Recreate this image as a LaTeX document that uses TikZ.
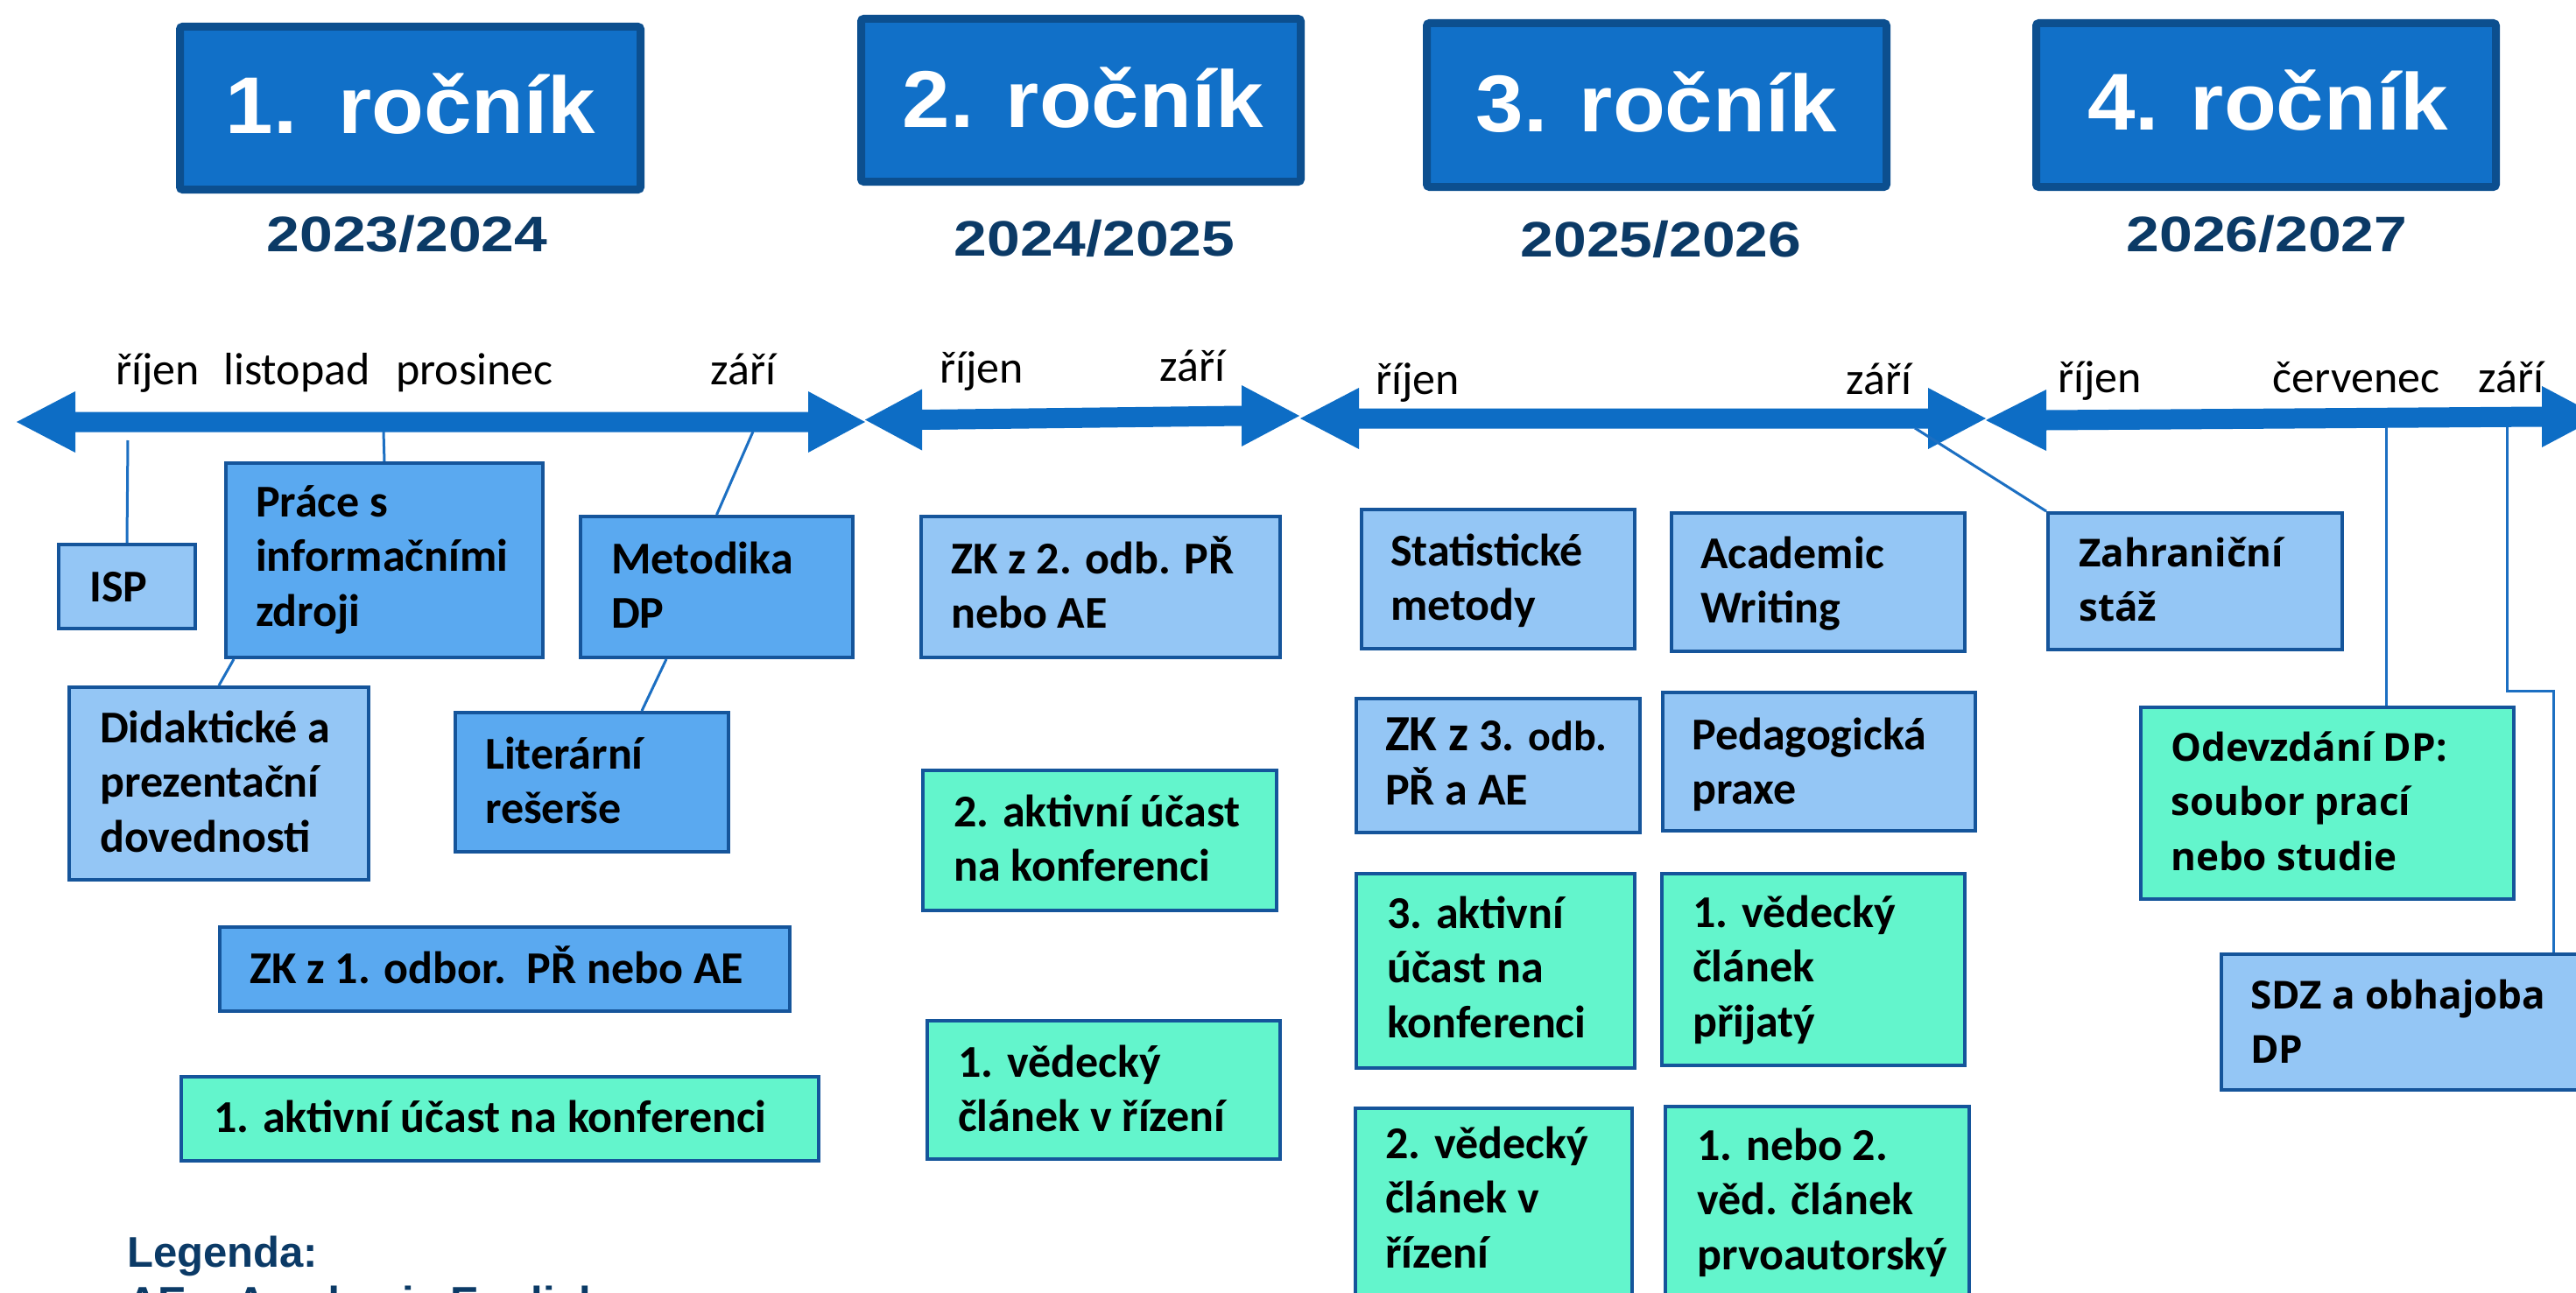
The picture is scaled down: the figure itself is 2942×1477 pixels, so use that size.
\documentclass[tikz,border=0pt]{standalone}
\usepackage{fontspec}
\setmainfont{Carlito}
\newfontfamily\arialf{Liberation Sans}
\newfontfamily\osans{Open Sans}
\usepackage{graphicx}
\definecolor{ybfill}{HTML}{1170C8}
\definecolor{ybdraw}{HTML}{0C4F8F}
\definecolor{navy}{HTML}{0B3A66}
\definecolor{tline}{HTML}{0D6DC5}
\definecolor{conn}{HTML}{1C6FC2}
\definecolor{bdraw}{HTML}{15559B}
\definecolor{lb}{HTML}{94C6F5}
\definecolor{mb}{HTML}{5AA9F0}
\definecolor{aq}{HTML}{63F5CC}
\newcommand\boxfnt{\bfseries\fontsize{52}{62.5}\selectfont}
\newcommand\oboxfnt{\osans\bfseries\fontsize{44}{62.5}\selectfont}
\tikzset{
  yearbox/.style={draw=ybdraw, fill=ybfill, line width=9pt, rounded corners=3pt, anchor=north west, inner sep=0pt},
  boxst/.style={draw=bdraw, line width=4pt, anchor=north west, inner sep=0pt},
  conline/.style={draw=conn, line width=3pt},
  titletext/.style={font=\arialf\bfseries\fontsize{92}{100}\selectfont, text=white, anchor=base, inner sep=0pt},
  yeartext/.style={font=\arialf\bfseries\fontsize{57}{60}\selectfont, text=navy, anchor=base, inner sep=0pt},
  month/.style={font=\fontsize{52}{62}\selectfont, anchor=base, inner sep=0pt},
  legtext/.style={font=\arialf\bfseries\fontsize{49}{57}\selectfont, text=navy, anchor=base west, inner sep=0pt},
  tarr/.style={fill=tline, draw=none}
}
% name x1 y1 x2 y2 fill textx last-baseline text
\newcommand\tbox[9]{%
  \node[boxst, fill=#6, minimum width={#4pt-#2pt-4pt}, minimum height={#5pt-#3pt-4pt}] (#1) at (#2,#3) {};
  \node[anchor=base west, align=left, inner sep=0pt, font=\boxfnt] (#1t) at (#7,#8) {#9};}
\newcommand\obox[9]{%
  \node[boxst, fill=#6, minimum width={#4pt-#2pt-4pt}, minimum height={#5pt-#3pt-4pt}] (#1) at (#2,#3) {};
  \node[anchor=base west, align=left, inner sep=0pt, font=\oboxfnt] (#1t) at (#7,#8) {#9};}
% left tip, left back, right back, right tip, y left, y right
\newcommand\tarrow[6]{%
  \fill[tarr] (#1,#5) -- (#2,{#5-35}) -- (#2,{#5-11.5}) -- (#3,{#6-11.5}) -- (#3,{#6-35}) -- (#4,#6)
    -- (#3,{#6+35}) -- (#3,{#6+11.5}) -- (#2,{#5+11.5}) -- (#2,{#5+35}) -- cycle;}
\begin{document}
\begin{tikzpicture}[x=1pt,y=-1pt]
\useasboundingbox (0,0) rectangle (2942,1477);
\clip (0,0) rectangle (2942,1477);
\fill[white] (0,0) rectangle (2942,1477);

% year boxes
\node[yearbox, minimum width=526pt, minimum height=186pt] (yb1) at (201,26) {};
\node[yearbox, minimum width=502pt, minimum height=186pt] (yb2) at (979,17) {};
\node[yearbox, minimum width=525pt, minimum height=187pt] (yb3) at (1625,22) {};
\node[yearbox, minimum width=525pt, minimum height=187pt] (yb4) at (2321,22) {};
\node[titletext] (t1) at (469,153) {\scalebox{1.065}[1]{1.\kern10pt{} ročník}};
\node[titletext] (t2) at (1237,146) {\scalebox{1.065}[1]{2. ročník}};
\node[titletext] (t3) at (1892,150) {\scalebox{1.065}[1]{3. ročník}};
\node[titletext] (t4) at (2590,149) {\scalebox{1.065}[1]{4. ročník}};
\node[yeartext] (yr1) at (465,287) {\scalebox{1.19}[1]{2023/2024}};
\node[yeartext] (yr2) at (1250,292) {\scalebox{1.19}[1]{2024/2025}};
\node[yeartext] (yr3) at (1897,293) {\scalebox{1.19}[1]{2025/2026}};
\node[yeartext] (yr4) at (2589,287) {\scalebox{1.19}[1]{2026/2027}};

% timeline
\tarrow{19}{86}{923}{988}{482}{482}
\tarrow{988}{1053}{1418}{1484}{479.5}{475}
\tarrow{1485}{1552}{2202}{2268}{478}{478}
\tarrow{2268}{2337}{2903}{2969}{480}{476}

% months
\node[month] (m1) at (180,439) {říjen};
\node[month] (m2) at (339,439) {listopad};
\node[month] (m3) at (542,439) {prosinec};
\node[month] (m4) at (849,439) {září};
\node[month] (m5) at (1121,437) {říjen};
\node[month] (m6) at (1362,435) {září};
\node[month] (m7) at (1619,450) {říjen};
\node[month] (m8) at (2146,450) {září};
\node[month] (m9) at (2398,448) {říjen};
\node[month] (m10) at (2691,448) {červenec};
\node[month] (m11) at (2868,448) {září};

% 1st year
\tbox{isp}{65}{620}{225}{720}{lb}{102}{687}{ISP}
\tbox{prace}{256}{527}{622}{753}{mb}{292}{715}{Práce s\\informačními\\zdroji}
\tbox{metod}{661}{588}{976}{753}{mb}{698}{717.5}{Metodika\\DP}
\tbox{didak}{77}{783}{423}{1007}{lb}{114}{973}{Didaktické a\\prezentační\\dovednosti}
\tbox{lit}{518}{812}{834}{975}{mb}{554}{940.5}{Literární\\rešerše}
\tbox{zk1}{249}{1057}{904}{1157}{mb}{285}{1123}{ZK z 1. odbor.\ \ PŘ nebo AE}
\tbox{ak1}{205}{1228}{937}{1328}{aq}{244}{1293}{1. aktivní účast na konferenci}

% 2nd year
\tbox{zk2}{1050}{588}{1464}{753}{lb}{1086}{717.5}{ZK z 2. odb. PŘ\\nebo AE}
\tbox{ak2}{1052}{878}{1460}{1042}{aq}{1089}{1006.5}{2. aktivní účast\\na konferenci}
\tbox{cl1}{1057}{1164}{1464}{1326}{aq}{1094}{1292.5}{1. vědecký\\článek v řízení}

% 3rd year
\tbox{stat}{1553}{580}{1869}{743}{lb}{1588}{708.5}{Statistické\\metody}
\tbox{acad}{1907}{584}{2246}{746}{lb}{1942}{711.5}{Academic\\Writing}
\tbox{zk3}{1547}{796}{1875}{953}{lb}{1582}{919.5}{{\fontsize{58}{62.5}\selectfont ZK z} 3. {\fontsize{48}{62.5}\selectfont odb.}\\PŘ a AE}
\tbox{ped}{1897}{789}{2258}{951}{lb}{1932}{918.5}{Pedagogická\\praxe}
\tbox{ak3}{1547}{996}{1869}{1222}{aq}{1584}{1185}{3. aktivní\\účast na\\konferenci}
\tbox{prij}{1896}{996}{2246}{1219}{aq}{1933}{1184}{1. vědecký\\článek\\přijatý}
\tbox{cl2}{1546}{1264}{1866}{1540}{aq}{1582}{1448}{2. vědecký\\článek v\\řízení}
\tbox{prvo}{1900}{1262}{2251}{1540}{aq}{1938}{1450}{1. nebo 2.\\věd. článek\\prvoautorský}

% 4th year
\obox{zahr}{2337}{584}{2677}{744}{lb}{2374}{709.5}{Zahraniční\\stáž}
\obox{odev}{2443}{806}{2873}{1029}{aq}{2479}{994}{Odevzdání DP:\\soubor prací\\nebo studie}
\obox{sdz}{2535}{1088}{2990}{1247}{lb}{2570}{1214.5}{SDZ a obhajoba\\DP}

% connectors
\coordinate (c1) at (146,503);
\coordinate (c2) at (438,493);
\coordinate (c3) at (860,493);
\coordinate (c4) at (2187,489);
\coordinate (c5) at (2725,488);
\coordinate (c6) at (2863,488);
\coordinate (c6k) at (2916,789);
\draw[conline] (c1) -- (isp.north);
\draw[conline] (c2) -- (prace.north);
\draw[conline] (c3) -- (metod.north);
\draw[conline] ([xshift=11pt]prace.south west) -- (didak.north);
\draw[conline] ([xshift=100pt]metod.south west) -- ([xshift=215pt]lit.north west);
\draw[conline] (c4) -- (zahr.north west);
\draw[conline] (c5) -- ([xshift=282pt]odev.north west);
\draw[conline] (c6) |- (c6k) -- ([xshift=381pt]sdz.north west);

% legend
\node[legtext] (leg) at (145,1447) {Legenda:};
\node[legtext] (leg2) at (145,1504) {AE = Academic English};
\end{tikzpicture}
\end{document}
